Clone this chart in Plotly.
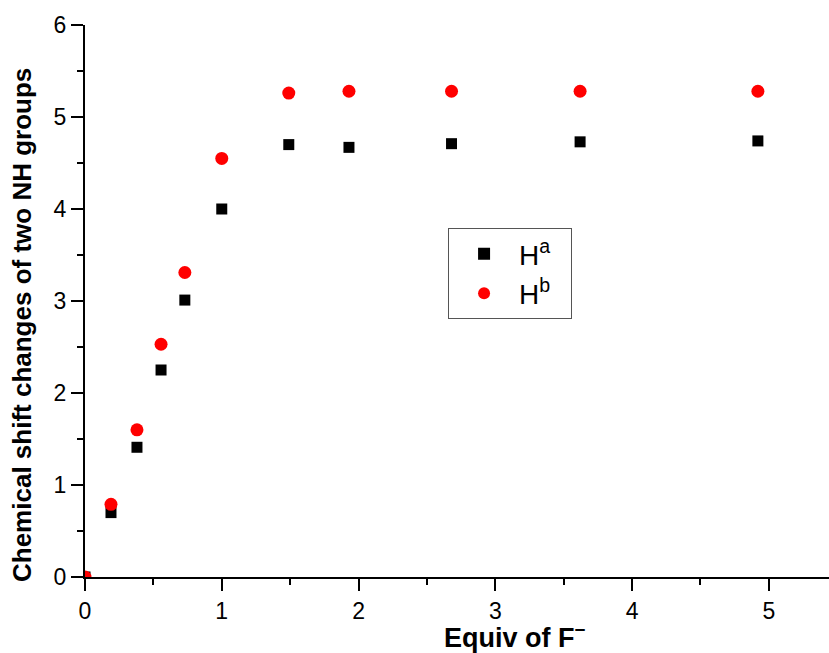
import plotly.graph_objects as go

equiv_a = [0, 0.19, 0.38, 0.556, 0.73, 1.0, 1.49, 1.93, 2.68, 3.62, 4.92]
shift_a = [0, 0.70, 1.41, 2.25, 3.01, 4.00, 4.70, 4.67, 4.71, 4.73, 4.74]
equiv_b = [0, 0.19, 0.38, 0.556, 0.73, 1.0, 1.49, 1.93, 2.68, 3.62, 4.92]
shift_b = [0, 0.79, 1.60, 2.53, 3.31, 4.55, 5.26, 5.28, 5.28, 5.28, 5.28]

x_title = "<b>Equiv of F<sup>−</sup></b>"
y_title = "<b>Chemical shift changes of two NH groups</b>"
names = ["H<sup>a</sup>&nbsp;&nbsp;", "H<sup>b</sup>&nbsp;&nbsp;"]

font = "Liberation Sans, Arial, sans-serif"

fig = go.Figure()
fig.add_trace(go.Scatter(x=equiv_a, y=shift_a, mode="markers", name=names[0],
                         marker=dict(symbol="square", size=11, color="black")))
fig.add_trace(go.Scatter(x=equiv_b, y=shift_b, mode="markers", name=names[1],
                         marker=dict(symbol="circle", size=13, color="red")))

axis_common = dict(showline=True, linecolor="black", linewidth=2, ticks="outside",
                   ticklen=12, tickwidth=2, tickcolor="black", showgrid=False,
                   zeroline=False, tickfont=dict(family=font, size=23, color="black"),
                   minor=dict(ticks="outside", ticklen=6, tickwidth=2, tickcolor="black", dtick=0.5))

fig.update_xaxes(range=[0, 5.44], dtick=1, tick0=0, **axis_common)
fig.update_yaxes(range=[0, 6], dtick=1, tick0=0, **axis_common)

fig.add_annotation(text=x_title, xref="paper", yref="paper", x=0.578, y=-0.107,
                   xanchor="center", yanchor="middle", showarrow=False,
                   font=dict(family=font, size=27, color="black"))
fig.add_annotation(text=y_title, xref="paper", yref="paper", x=-0.0847, y=0.4565,
                   xanchor="center", yanchor="middle", showarrow=False, textangle=-90,
                   font=dict(family=font, size=26, color="black"))

fig.update_layout(
    width=829, height=653,
    margin=dict(l=85, r=0, t=25, b=76),
    plot_bgcolor="white", paper_bgcolor="white",
    legend=dict(x=0.488, y=0.632, xanchor="left", yanchor="top",
                bordercolor="#555", borderwidth=1, bgcolor="white",
                font=dict(family=font, size=28, color="black"),
                itemsizing="constant", itemwidth=60, tracegroupgap=0),
    showlegend=True,
)

fig.write_html("out.html")
